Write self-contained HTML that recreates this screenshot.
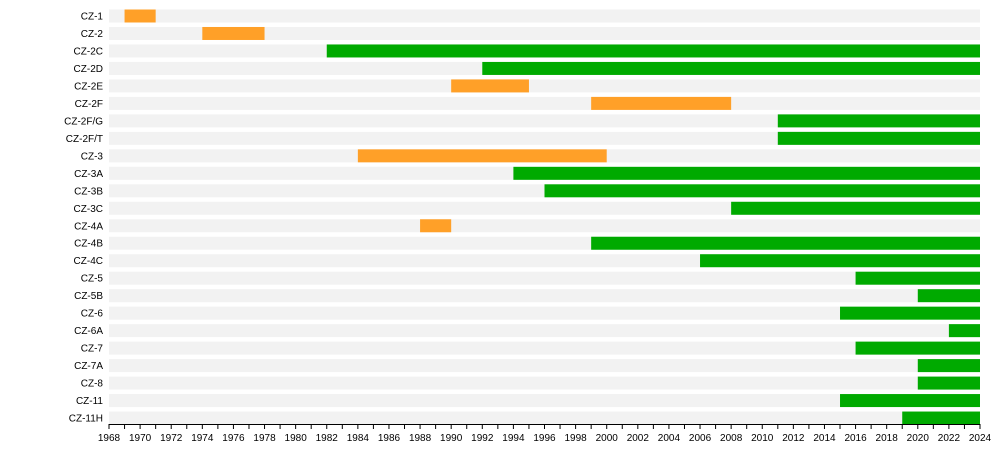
<!DOCTYPE html>
<html><head><meta charset="utf-8"><style>
body{margin:0;background:#fff;font-family:"Liberation Sans",sans-serif}
svg text{font-family:"Liberation Sans",sans-serif;font-size:10px;fill:#000}
</style></head><body>
<svg id="c" width="1000" height="454"></svg>
<script>
const categories=["CZ-1","CZ-2","CZ-2C","CZ-2D","CZ-2E","CZ-2F","CZ-2F/G","CZ-2F/T","CZ-3","CZ-3A","CZ-3B","CZ-3C","CZ-4A","CZ-4B","CZ-4C","CZ-5","CZ-5B","CZ-6","CZ-6A","CZ-7","CZ-7A","CZ-8","CZ-11","CZ-11H"];
const startYears=[1969,1974,1982,1992,1990,1999,2011,2011,1984,1994,1996,2008,1988,1999,2006,2016,2020,2015,2022,2016,2020,2020,2015,2019];
const endYears=[1971,1978,2024,2024,1995,2008,2024,2024,2000,2024,2024,2024,1990,2024,2024,2024,2024,2024,2024,2024,2024,2024,2024,2024];
const active=[0,0,1,1,0,0,1,1,0,1,1,1,0,1,1,1,1,1,1,1,1,1,1,1];
const tickYears=[];for(let y=1968;y<=2024;y+=2)tickYears.push(y);
const svg=document.getElementById('c');const NS="http://www.w3.org/2000/svg";
const x0=109,x1=980,yMin=1968,yMax=2024;
const xs=v=>x0+(v-yMin)/(yMax-yMin)*(x1-x0);
const rowY=i=>16+i*17.48;
function mk(t,a){const e=document.createElementNS(NS,t);for(const k in a)e.setAttribute(k,a[k]);svg.appendChild(e);return e;}
categories.forEach((c,i)=>{
 const cy=rowY(i);
 const bg=mk('rect',{x:x0,y:cy-6.5,width:x1-x0,height:13,fill:'#f2f2f2'});
 
 
 const b=mk('rect',{x:xs(startYears[i]),y:cy-6.5,width:xs(endYears[i])-xs(startYears[i]),height:13,fill:active[i]?'#00aa00':'#ffa028'});
 
 
 const t=mk('text',{x:x0-6,y:cy+3.5,'text-anchor':'end'});t.textContent=c;
 
 
});
const ax=mk('line',{x1:x0,x2:x1,y1:424.5,y2:424.5,stroke:'#000'});


for(let y=yMin;y<=yMax;y++){const l=mk('line',{x1:xs(y),x2:xs(y),y1:424,y2:429,stroke:'#000'});
 
 }
tickYears.forEach(y=>{const t=mk('text',{x:xs(y),y:441,'text-anchor':'middle'});t.textContent=y;
 
 });
</script>
</body></html>
